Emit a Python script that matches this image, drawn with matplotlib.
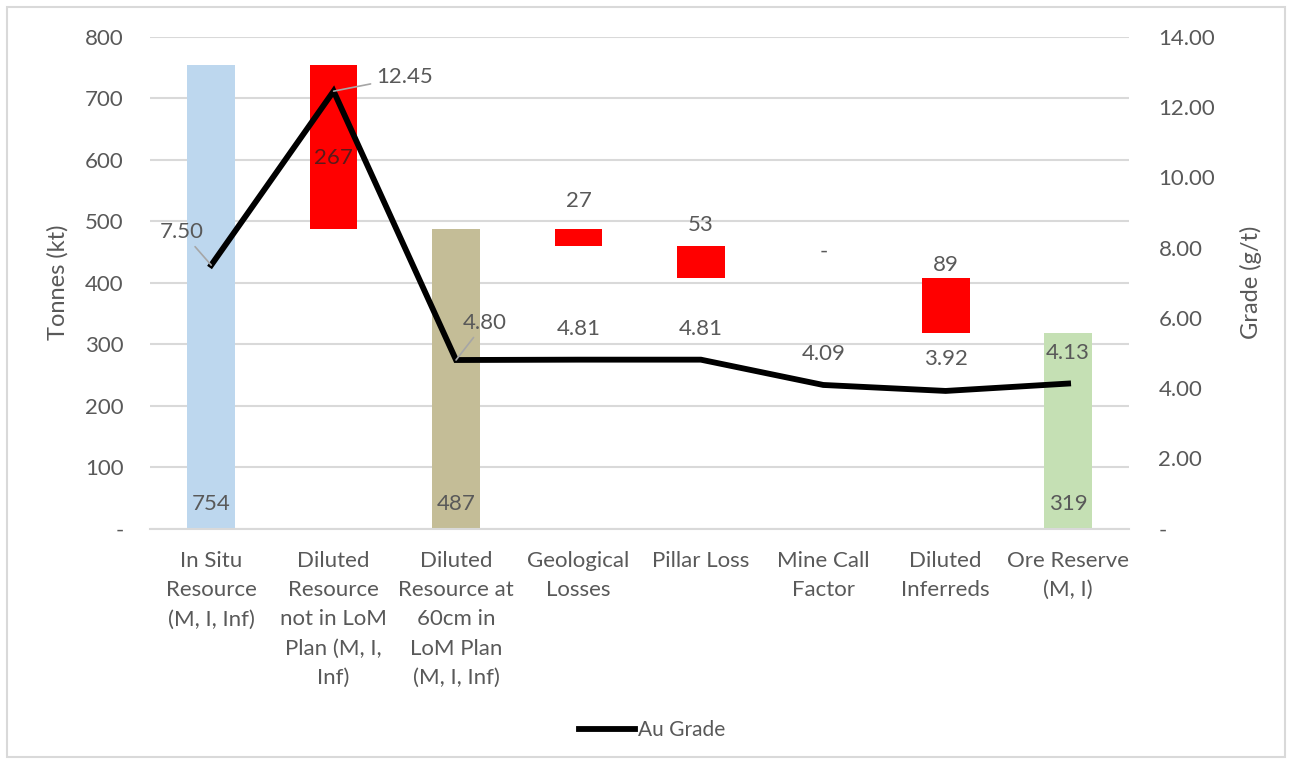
import matplotlib.pyplot as plt
from matplotlib.patches import Rectangle
from matplotlib.ticker import FuncFormatter, MultipleLocator
import numpy as np

plt.rcParams['font.family'] = ['Lato', 'DejaVu Sans']

### data
categories = ['In Situ\nResource\n(M, I, Inf)',
              'Diluted\nResource\nnot in LoM\nPlan (M, I,\nInf)',
              'Diluted\nResource at\n60cm in\nLoM Plan\n(M, I, Inf)',
              'Geological\nLosses',
              'Pillar Loss',
              'Mine Call\nFactor',
              'Diluted\nInferreds',
              'Ore Reserve\n(M, I)']
tonnes = [754, 267, 487, 27, 53, 0, 89, 319]
is_total = [True, False, True, False, False, False, False, True]
grade = [7.50, 12.45, 4.80, 4.81, 4.81, 4.09, 3.92, 4.13]

bar_colors = ['#BDD7EE', '#FF0000', '#C4BD97', '#FF0000', '#FF0000',
              '#FF0000', '#FF0000', '#C5E0B4']
# label offsets (points) for the tonnage labels of the loss bars
loss_label_pad = [0, -8, 0, 20, 15, 19, 10, 0]

TXT = '#595959'
GRID = '#D9D9D9'
FS = 16

### waterfall bottoms
bottoms = []
level = 0
for v, tot in zip(tonnes, is_total):
    if tot:
        bottoms.append(0)
        level = v
    else:
        level = level - v
        bottoms.append(level)

x = np.arange(len(categories))

fig = plt.figure(figsize=(12.92, 7.64), dpi=100)
fig.patches.append(Rectangle((7/1292, 7/764), 1278/1292, 750/764,
                             transform=fig.transFigure, fill=False,
                             edgecolor=GRID, lw=1.5))
ax = fig.add_axes([150/1292, 1-528.7/764, 979.3/1292, 492/764])
ax2 = ax.twinx()

ax.bar(x, tonnes, bottom=bottoms, width=0.39, color=bar_colors, zorder=2)
ax.set_xlim(-0.5, len(categories)-0.5)
ax.set_ylim(0, 800)
ax.yaxis.set_major_locator(MultipleLocator(100))
ax.yaxis.set_major_formatter(FuncFormatter(lambda v, p: '-' if v == 0 else f'{v:.0f}'))
ax.grid(axis='y', color=GRID, lw=1.5, zorder=0)
ax.set_axisbelow(True)
for s in ['left', 'right', 'top']:
    ax.spines[s].set_visible(False)
ax.spines['bottom'].set_color(GRID)
ax.spines['bottom'].set_linewidth(1.5)
ax.tick_params(axis='y', length=0, pad=19, labelsize=FS, labelcolor=TXT)
ax.tick_params(axis='x', length=0, pad=16, labelsize=FS, labelcolor=TXT)
ax.set_xticks(x)
ax.set_xticklabels(categories, linespacing=1.58, va='top')
ax.set_ylabel('Tonnes (kt)', fontsize=FS+1, color=TXT, labelpad=12)

# tonnage labels
for i, (v, b, tot) in enumerate(zip(tonnes, bottoms, is_total)):
    txt = f'{v}' if v > 0 else '-'
    if tot:
        ax.annotate(txt, (i, 0), xytext=(0, 18), textcoords='offset points',
                    ha='center', va='center', fontsize=FS, color=TXT, zorder=5)
    elif i == 1:
        ax.annotate(txt, (i, b + v/2), xytext=(0, loss_label_pad[i]),
                    textcoords='offset points', ha='center', va='center',
                    fontsize=FS, color='#5A1A1A', zorder=5)
    else:
        ax.annotate(txt, (i, b + v), xytext=(0, loss_label_pad[i]),
                    textcoords='offset points', ha='center', va='center',
                    fontsize=FS, color=TXT, zorder=5)

### grade line on secondary axis
line, = ax2.plot(x, grade, color='black', lw=4.2, solid_joinstyle='miter',
                 label='Au Grade', zorder=4)
ax2.set_ylim(0, 14)
ax2.yaxis.set_major_locator(MultipleLocator(2))
ax2.yaxis.set_major_formatter(FuncFormatter(lambda v, p: '-' if v == 0 else f'{v:.2f}'))
for s in ax2.spines.values():
    s.set_visible(False)
ax2.tick_params(axis='y', length=0, pad=21, labelsize=FS, labelcolor=TXT)
ax2.set_ylabel('Grade (g/t)', fontsize=FS+1, color=TXT, labelpad=18)

lead = dict(arrowstyle='-', color='#A6A6A6', lw=1.2, shrinkA=2, shrinkB=0)
grade_offsets = [(-21, 24), (51, 10), (21, 27), (0, 22), (0, 22), (0, 22), (0, 23), (0, 22)]
for i, g in enumerate(grade):
    dx, dy = grade_offsets[i]
    ax2.annotate(f'{g:.2f}', (i, g), xytext=(dx, dy), textcoords='offset points',
                 ha='center', va='center', fontsize=FS, color=TXT,
                 arrowprops=lead if dx != 0 else None, zorder=5)

fig.legend(handles=[line], loc='center', bbox_to_anchor=(652/1292, 1-730/764),
           frameon=False, fontsize=15, labelcolor=TXT, handlelength=2.7,
           handletextpad=0.1)

fig.savefig('out.png', dpi=100)
